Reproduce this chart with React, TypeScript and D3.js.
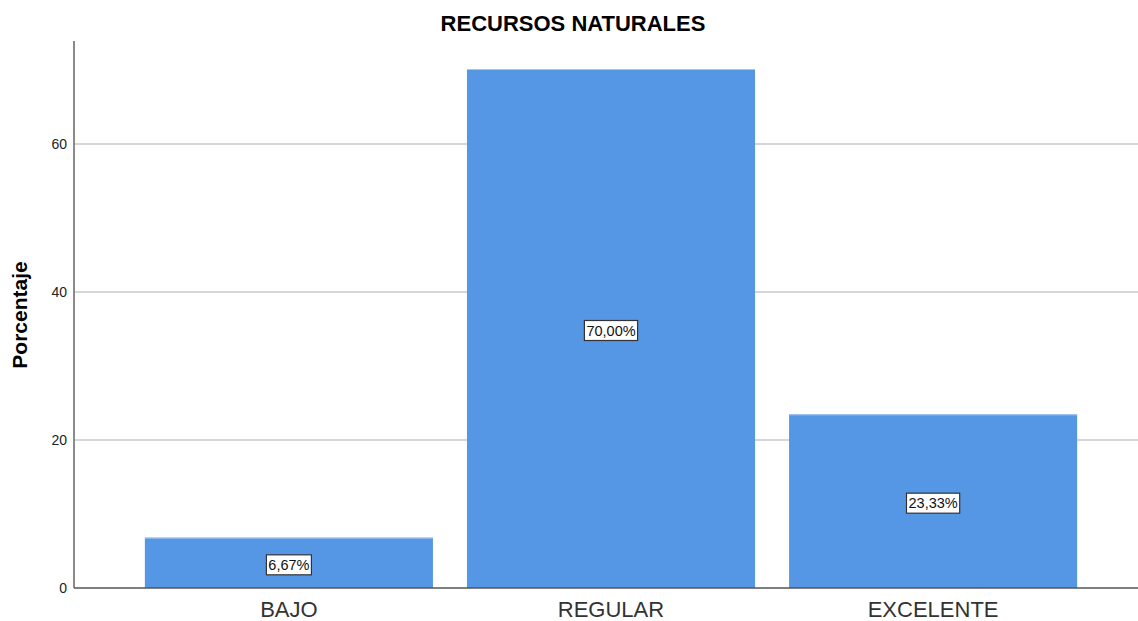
import React from "react";
import * as d3 from "d3";

const categories = ["BAJO", "REGULAR", "EXCELENTE"];
const values = [6.67, 70.0, 23.33];
const valueLabels = ["6,67%", "70,00%", "23,33%"];
const yTicks = [0, 20, 40, 60];

const W = 1138;
const H = 621;
const left = 74;
const top = 41;
const bottom = 588;

export default function App() {
  const x = d3
    .scaleBand<string>()
    .domain(categories)
    .range([left, 1148])
    .paddingInner(0.1056)
    .paddingOuter(0.22);
  const y = d3.scaleLinear().domain([0, 74]).range([bottom, bottom - 74 * 7.4]);
  const font = "Arial, 'Liberation Sans', sans-serif";
  return (
    <svg
      width={W}
      height={H}
      style={{ position: "absolute", left: 0, top: 0, background: "#fff" }}
      fontFamily={font}
    >
      <rect x={0} y={0} width={W} height={H} fill="#fff" />
      {yTicks.filter((t) => t > 0).map((t) => (
        <line key={t} x1={left} x2={W} y1={y(t)} y2={y(t)} stroke="#c8c8c8" strokeWidth={1.5} />
      ))}
      {categories.map((c, i) => (
        <g key={c}>
          <rect
            x={x(c)}
            y={y(values[i]) - 1}
            width={x.bandwidth()}
            height={y(0) - y(values[i]) + 1}
            fill="#5596e5"
          />
          <line
            x1={x(c)}
            x2={(x(c) as number) + x.bandwidth()}
            y1={y(values[i]) - 0.5}
            y2={y(values[i]) - 0.5}
            stroke="#a4c6f0"
            strokeWidth={1}
          />
        </g>
      ))}
      {categories.map((c, i) => {
        const cx = (x(c) as number) + x.bandwidth() / 2;
        const cy = (y(values[i]) + y(0)) / 2 + 1.5;
        const bw = valueLabels[i].length * 8.2 + 4;
        return (
          <g key={c + "lbl"}>
            <rect
              x={cx - bw / 2}
              y={cy - 10}
              width={bw}
              height={20}
              fill="#fff"
              stroke="#333"
              strokeWidth={1.2}
            />
            <text x={cx} y={cy + 5} textAnchor="middle" fontSize={14.5} fill="#111">
              {valueLabels[i]}
            </text>
          </g>
        );
      })}
      <line x1={left} x2={left} y1={top} y2={bottom} stroke="#8a8a8a" strokeWidth={2} />
      <line x1={left} x2={W} y1={bottom} y2={bottom} stroke="#555" strokeWidth={1.5} />
      {yTicks.map((t) => (
        <text key={t} x={67} y={y(t) + 5} textAnchor="end" fontSize={14} fill="#222">
          {t}
        </text>
      ))}
      {categories.map((c) => (
        <text
          key={c + "x"}
          x={(x(c) as number) + x.bandwidth() / 2}
          y={617}
          textAnchor="middle"
          fontSize={22}
          fill="#333"
        >
          {c}
        </text>
      ))}
      <text x={573} y={31} textAnchor="middle" fontSize={22} fontWeight="bold" fill="#000">
        RECURSOS NATURALES
      </text>
      <text
        transform={`translate(27,315) rotate(-90)`}
        textAnchor="middle"
        fontSize={21}
        fontWeight="bold"
        fill="#000"
      >
        Porcentaje
      </text>
    </svg>
  );
}
